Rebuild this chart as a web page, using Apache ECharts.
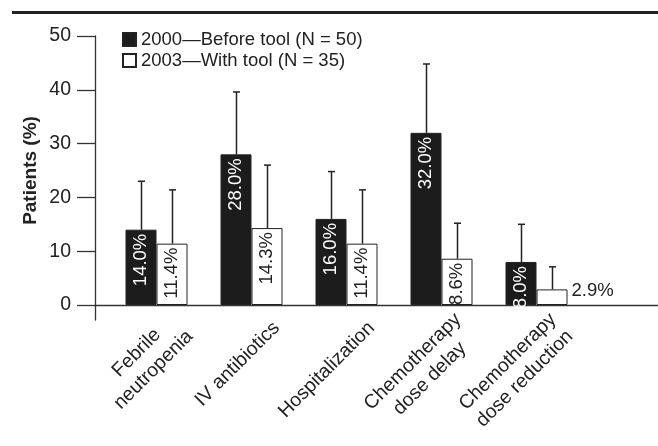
<!DOCTYPE html>
<html><head><meta charset="utf-8">
<script src="https://cdn.jsdelivr.net/npm/echarts@6/dist/echarts.min.js"></script>
<style>html,body{margin:0;padding:0;background:#fff}#c{width:658px;height:446px}</style>
</head><body><div id="c"></div>
<script>
const categories = ['Febrile\nneutropenia', 'IV antibiotics', 'Hospitalization', 'Chemotherapy\ndose delay', 'Chemotherapy\ndose reduction'];
const seriesNames = ['2000\u2014Before tool (N = 50)', '2003\u2014With tool (N = 35)'];
const before = [14.0, 28.0, 16.0, 32.0, 8.0];
const withTool = [11.4, 14.3, 11.4, 8.6, 2.9];
const beforeErrUpper = [23.0, 39.6, 24.8, 44.8, 15.0];
const withToolErrUpper = [21.4, 26.0, 21.4, 15.2, 7.1];
const yTicks = [0, 10, 20, 30, 40, 50];

const FONT = "'Liberation Sans', Arial, sans-serif";
const FS = 18.5;
const CAT_FS = 19.5;
const BAR_W = 31;
const INK = '#222';

function barData(vals) {
  return vals.map(v => {
    if (v < 5) {
      return { value: v, label: { position: 'right', rotate: 0, align: 'left', verticalAlign: 'middle', distance: 4, offset: [0, -6], color: INK } };
    }
    return v;
  });
}

function errSeries(vals, ups, side) {
  return {
    type: 'custom', xAxisIndex: 1, yAxisIndex: 1, z: 5, silent: true,
    data: vals.map((v, i) => [i, v, ups[i]]),
    renderItem(params, api) {
      const base = api.coord([api.value(0), api.value(1)]);
      const top = api.coord([api.value(0), api.value(2)]);
      const cx = Math.round(base[0] + side * BAR_W / 2) + 0.5;
      return { type: 'group', children: [
        { type: 'line', shape: { x1: cx, y1: base[1], x2: cx, y2: top[1] }, style: { stroke: INK, lineWidth: 1.5 } },
        { type: 'line', shape: { x1: cx - 3.5, y1: top[1], x2: cx + 3.5, y2: top[1] }, style: { stroke: INK, lineWidth: 1.5 } }
      ]};
    }
  };
}

const chart = echarts.init(document.getElementById('c'), null, { renderer: 'canvas' });
chart.setOption({
  animation: false,
  backgroundColor: '#fff',
  textStyle: { fontFamily: FONT },
  graphic: [{ type: 'rect', shape: { x: 12, y: 11, width: 646, height: 3 }, style: { fill: INK } }],
  legend: {
    data: seriesNames, orient: 'vertical', left: 117, top: 25,
    itemWidth: 13, itemHeight: 13, itemGap: 2, icon: 'rect',
    textStyle: { fontSize: FS, fontFamily: FONT, color: INK }
  },
  grid: [
    { left: 95, right: 0, top: 36, bottom: 126 },
    { left: 109, width: 475, top: 36, bottom: 141 },
    { left: 134, width: 475, top: 36, bottom: 141 }
  ],
  xAxis: [
    { gridIndex: 0, type: 'value', min: 0, max: 1, axisLine: { show: true, onZero: true, lineStyle: { color: '#333', width: 1.3 } },
      axisTick: { show: false }, axisLabel: { show: false }, splitLine: { show: false } },
    { gridIndex: 1, type: 'category', data: categories, axisLine: { show: false }, axisTick: { show: false }, axisLabel: { show: false } },
    { gridIndex: 2, type: 'category', data: categories, axisLine: { show: false }, axisTick: { show: false },
      axisLabel: { rotate: 45, interval: 0, margin: 20, color: INK, fontSize: CAT_FS, fontFamily: FONT, lineHeight: 24,
        formatter: v => v.split('\n').map(s => '{c|' + s + '}').join('\n'),
        rich: { c: { align: 'center', fontSize: CAT_FS, fontFamily: FONT, color: INK, lineHeight: 24 } } } }
  ],
  yAxis: [
    { gridIndex: 0, type: 'value', min: -2.788, max: 50,
      axisLine: { show: true, lineStyle: { color: '#333', width: 1.3 } },
      axisTick: { show: true, length: 18, customValues: yTicks, lineStyle: { color: '#333', width: 1.3 } },
      axisLabel: { customValues: yTicks, margin: 24, fontSize: FS + 1, fontFamily: FONT, color: INK },
      splitLine: { show: false } },
    { gridIndex: 1, type: 'value', min: 0, max: 50, name: 'Patients (%)', nameLocation: 'middle', nameGap: 69,
      nameTextStyle: { fontWeight: 'bold', fontSize: 19, fontFamily: FONT, color: INK },
      axisLine: { show: false }, axisTick: { show: false }, axisLabel: { show: false }, splitLine: { show: false } },
    { gridIndex: 2, type: 'value', min: 0, max: 50, show: false }
  ],
  series: [
    { name: seriesNames[0], type: 'bar', xAxisIndex: 1, yAxisIndex: 1, barWidth: BAR_W, barGap: '0%',
      data: barData(before),
      itemStyle: { color: '#1c1c1c', borderColor: INK, borderWidth: 1 },
      label: { show: true, position: 'insideTop', rotate: 90, align: 'right', verticalAlign: 'middle', distance: 4,
        color: '#fff', fontSize: FS, fontFamily: FONT, formatter: p => p.value.toFixed(1) + '%' } },
    { name: seriesNames[1], type: 'bar', xAxisIndex: 1, yAxisIndex: 1, barWidth: BAR_W,
      data: barData(withTool),
      itemStyle: { color: '#fff', borderColor: INK, borderWidth: 1 },
      label: { show: true, position: 'insideTop', rotate: 90, align: 'right', verticalAlign: 'middle', distance: 4,
        color: INK, fontSize: FS, fontFamily: FONT, formatter: p => p.value.toFixed(1) + '%' } },
    errSeries(before, beforeErrUpper, -1),
    errSeries(withTool, withToolErrUpper, 1)
  ]
});
</script></body></html>
